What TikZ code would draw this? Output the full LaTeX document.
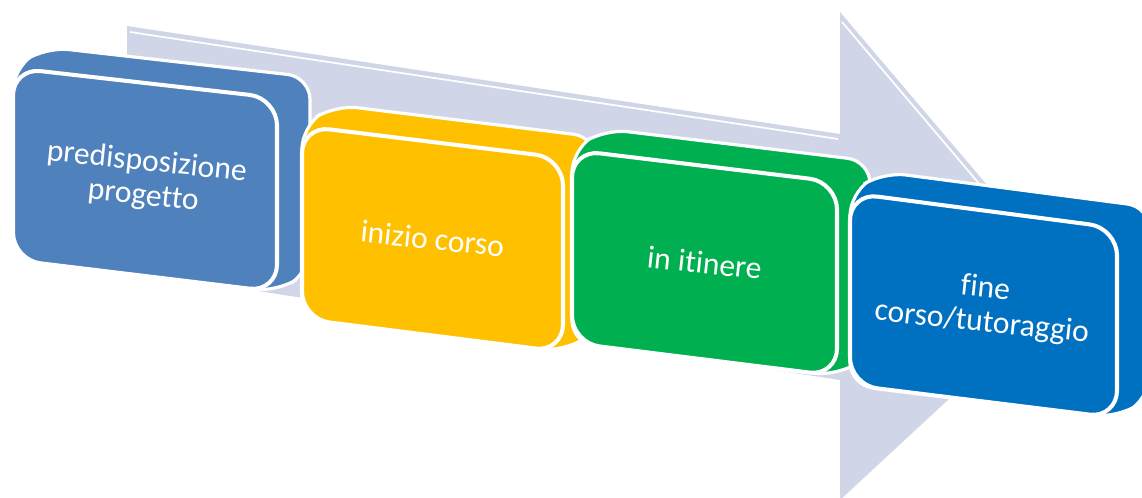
\documentclass[tikz,border=0pt]{standalone}
\usepackage{fontspec}
\setmainfont{Carlito}[Ligatures=NoCommon]
\usepackage{xcolor}
\definecolor{arrowgray}{RGB}{208,214,232}
\definecolor{boxblue}{RGB}{79,129,189}
\definecolor{boxyellow}{RGB}{255,192,0}
\definecolor{boxgreen}{RGB}{0,176,80}
\definecolor{boxdeep}{RGB}{0,112,192}

\begin{document}
\begin{tikzpicture}[x=0.02cm,y=-0.02cm,
  slabside/.style={fill=#1, draw=white, line width=1.8pt, rounded corners=0.45cm},
  slabfront/.style={fill=#1, draw=white, line width=2.3pt, rounded corners=0.55cm},
  slabtext/.style={text=white, align=center, font=\fontsize{18}{19.5}\selectfont, rotate=-6}]
  \useasboundingbox (0,0) rectangle (1142,497);
  \clip (0,0) rectangle (1142,497);

  % background arrow
  \fill[arrowgray] (127,26) -- (840,134) -- (840,12) -- (1072,285) -- (840,500)
    -- (840,380) -- (127,271) -- cycle;
  \draw[white, line width=1pt] (130,32) -- (838,139);
  \draw[white, line width=1pt] (842,22) -- (1060,279);

  % stages
  \foreach \x/\y/\w/\s/\hl/\hr/\col/\nm/\lab in {
    13/68/264/30/192/194/boxblue/prep/{predisposizione\\progetto},
    302/126/261/32/193/194/boxyellow/start/{inizio corso},
    572/150/265/32/193/194/boxgreen/mid/{in itinere},
    850/193/267/35/192/190/boxdeep/finish/{fine\\corso/tutoraggio}} {
    \draw[slabside=\col] (\x,\y+\hl) -- (\x,\y) -- (\x+33,\y-21) -- (\x+\w+33,\y+\s-21)
      -- (\x+\w+33,\y+\s+\hr-21) -- (\x+\w,\y+\s+\hr) -- cycle;
    \draw[slabfront=\col] (\x,\y) -- (\x+\w,\y+\s) -- (\x+\w,\y+\s+\hr)
      -- (\x,\y+\hl) -- cycle;
    \node[slabtext] (\nm) at (\x+\w/2,\y+\s/2+\hl/4+\hr/4) {\lab};
  }
\end{tikzpicture}
\end{document}
